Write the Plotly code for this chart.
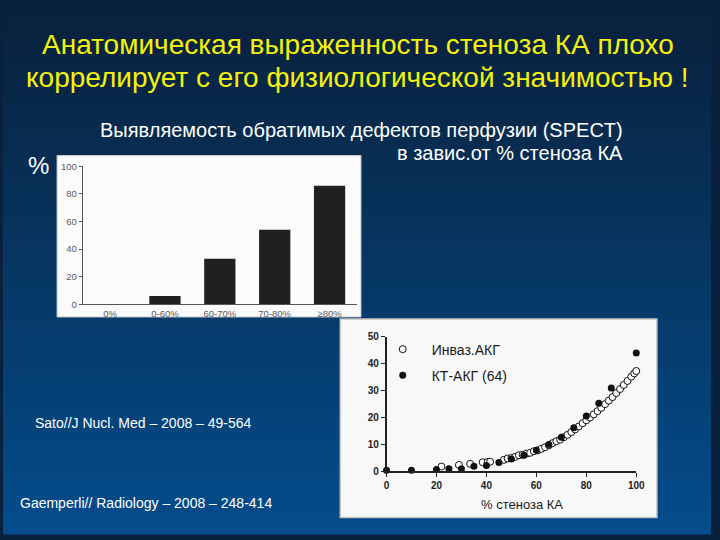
import plotly.graph_objects as go

# ---------------- data ----------------
bar_categories = ["0%", "0-60%", "60-70%", "70-80%", "≥80%"]
bar_values = [0, 6, 33, 54, 86]

ct_x = [0, 10, 20, 25, 30, 35, 40, 45, 50, 55, 60, 65, 70, 75, 80, 85, 90, 100]
ct_y = [0.4, 0.4, 0.7, 1.0, 1.0, 1.9, 2.2, 3.3, 4.6, 6.0, 7.9, 10.0, 12.7, 16.2, 20.6, 25.3, 31.0, 44.0]

inv_x = [22, 29, 33.5, 38.5, 40.5, 41.5, 47, 48.5, 50, 51.5, 53, 54.5, 56, 57.5, 59, 60.5, 62,
         63.5, 65, 66.5, 68, 69.5, 71, 72.5, 74, 75.5, 77, 78.5, 80, 81.5, 83, 84.5, 86, 87.5,
         89, 90.5, 92, 93.5, 95, 96.5, 98, 99.2, 100]
inv_y = [1.8, 2.4, 2.8, 3.4, 3.5, 3.6, 4.3, 4.8, 5.0, 5.4, 6.0, 6.2, 6.6, 6.9, 7.5, 7.8, 8.4,
         9.0, 9.7, 10.5, 11.2, 11.8, 12.7, 13.6, 14.6, 15.6, 16.7, 17.9, 19.0, 20.0, 21.2, 22.4,
         23.6, 25.0, 26.3, 27.6, 29.1, 30.6, 32.1, 33.6, 35.2, 36.4, 37.3]

bar_yticks = [0, 20, 40, 60, 80, 100]
sc_xticks = [0, 20, 40, 60, 80, 100]
sc_yticks = [0, 10, 20, 30, 40, 50]

W, H = 720, 540
FONT = "Liberation Sans"


def px(x):
    return x / W


def py(y):
    return 1 - y / H


fig = go.Figure()

fig.add_trace(go.Bar(
    x=bar_categories, y=bar_values, marker=dict(color="#202020", line=dict(width=0)),
    width=0.57, xaxis="x", yaxis="y", showlegend=False))

fig.add_trace(go.Scatter(
    x=inv_x, y=inv_y, mode="markers", name="Инваз.АКГ", xaxis="x2", yaxis="y2",
    marker=dict(symbol="circle", size=7, color="white", line=dict(color="#111", width=1)),
    cliponaxis=False, legendgroup="a"))

fig.add_trace(go.Scatter(
    x=ct_x, y=ct_y, mode="markers", name="КТ-АКГ (64)", xaxis="x2", yaxis="y2",
    marker=dict(symbol="circle", size=7, color="#111", line=dict(color="#111", width=0)),
    cliponaxis=False, legendgroup="b"))

# ---------------- background gradient ----------------
shapes = []
n = 54
top = (9, 33, 60)
bot = (4, 76, 140)
for i in range(n):
    t = i / (n - 1)
    c = tuple(int(round(top[k] + (bot[k] - top[k]) * t)) for k in range(3))
    shapes.append(dict(type="rect", xref="paper", yref="paper", x0=0, x1=1,
                       y0=1 - (i + 1) / n - 0.001, y1=1 - i / n,
                       fillcolor="rgb(%d,%d,%d)" % c, line=dict(width=0), layer="below"))

# panels
shapes.append(dict(type="rect", xref="paper", yref="paper",
                   x0=px(55), x1=px(364), y0=py(318), y1=py(153),
                   fillcolor="#fbfbfb", line=dict(color="#d0d0d0", width=1), layer="below"))
shapes.append(dict(type="rect", xref="paper", yref="paper",
                   x0=px(343), x1=px(665), y0=py(523), y1=py(320),
                   fillcolor="#f8f8f8", line=dict(color="#c4c4c4", width=1.5), layer="below"))

annotations = [
    dict(text="Анатомическая выраженность стеноза КА плохо",
         x=px(361), y=py(39), xref="paper", yref="paper", xanchor="center", yanchor="middle",
         showarrow=False, font=dict(family=FONT, size=28, color="#f4f20c")),
    dict(text="коррелирует с его физиологической значимостью !",
         x=px(361), y=py(73), xref="paper", yref="paper", xanchor="center", yanchor="middle",
         showarrow=False, font=dict(family=FONT, size=28, color="#f4f20c")),
    dict(text="Выявляемость обратимых дефектов перфузии (SPECT)",
         x=px(633), y=py(127), xref="paper", yref="paper", xanchor="right", yanchor="middle",
         showarrow=False, font=dict(family=FONT, size=20, color="white")),
    dict(text="в завис.от % стеноза КА",
         x=px(633), y=py(150), xref="paper", yref="paper", xanchor="right", yanchor="middle",
         showarrow=False, font=dict(family=FONT, size=20, color="white")),
    dict(text="%", x=px(36), y=py(163), xref="paper", yref="paper", xanchor="center", yanchor="middle",
         showarrow=False, font=dict(family=FONT, size=24, color="white")),
    dict(text="Sato//J Nucl. Med – 2008 – 49-564", x=px(31), y=py(426), xref="paper", yref="paper",
         xanchor="left", yanchor="middle", showarrow=False,
         font=dict(family=FONT, size=14, color="white")),
    dict(text="Gaemperli// Radiology – 2008 – 248-414", x=px(15), y=py(508), xref="paper", yref="paper",
         xanchor="left", yanchor="middle", showarrow=False,
         font=dict(family=FONT, size=14, color="white")),
    dict(text="% стеноза КА", x=px(528), y=py(510), xref="paper", yref="paper",
         xanchor="center", yanchor="middle", showarrow=False,
         font=dict(family=FONT, size=13, color="#1a1a1a")),
]

fig.update_layout(
    width=W, height=H, margin=dict(l=0, r=0, t=0, b=0),
    paper_bgcolor="rgb(9,33,60)", plot_bgcolor="rgba(0,0,0,0)",
    shapes=shapes, annotations=annotations,
    xaxis=dict(domain=[px(81), px(360)], anchor="y", type="category",
               categoryorder="array", categoryarray=bar_categories,
               range=[-0.5, 4.5], showline=True, linecolor="#555", linewidth=1,
               ticks="", showgrid=False, zeroline=False,
               tickfont=dict(family=FONT, size=9.5, color="#5a5a5a")),
    yaxis=dict(domain=[py(305), py(164)], anchor="x", range=[0, 100],
               tickvals=bar_yticks, showline=True, linecolor="#555", linewidth=1,
               ticks="outside", ticklen=3, tickcolor="#555", showgrid=False, zeroline=False,
               tickfont=dict(family=FONT, size=9.5, color="#5a5a5a")),
    xaxis2=dict(domain=[px(390), px(644)], anchor="y2", range=[0, 100],
                tickvals=sc_xticks, showline=True, linecolor="#222", linewidth=1.5,
                ticks="outside", ticklen=4, tickcolor="#222", showgrid=False, zeroline=False,
                tickfont=dict(family=FONT, size=10, color="#222", weight="bold")),
    yaxis2=dict(domain=[py(476), py(338.3)], anchor="x2", range=[0, 50],
                tickvals=sc_yticks, showline=True, linecolor="#222", linewidth=1.5,
                ticks="outside", ticklen=4, tickcolor="#222", showgrid=False, zeroline=False,
                tickfont=dict(family=FONT, size=10, color="#222", weight="bold")),
    legend=dict(x=px(377), y=py(335), xanchor="left", yanchor="top",
                bgcolor="rgba(0,0,0,0)", borderwidth=0, tracegroupgap=5, itemwidth=48,
                font=dict(family=FONT, size=14, color="#1a1a1a")),
    showlegend=True,
)

fig.write_html("out.html", config={"displayModeBar": False},
               post_script="document.body.style.margin='0px';document.body.style.overflow='hidden';")
